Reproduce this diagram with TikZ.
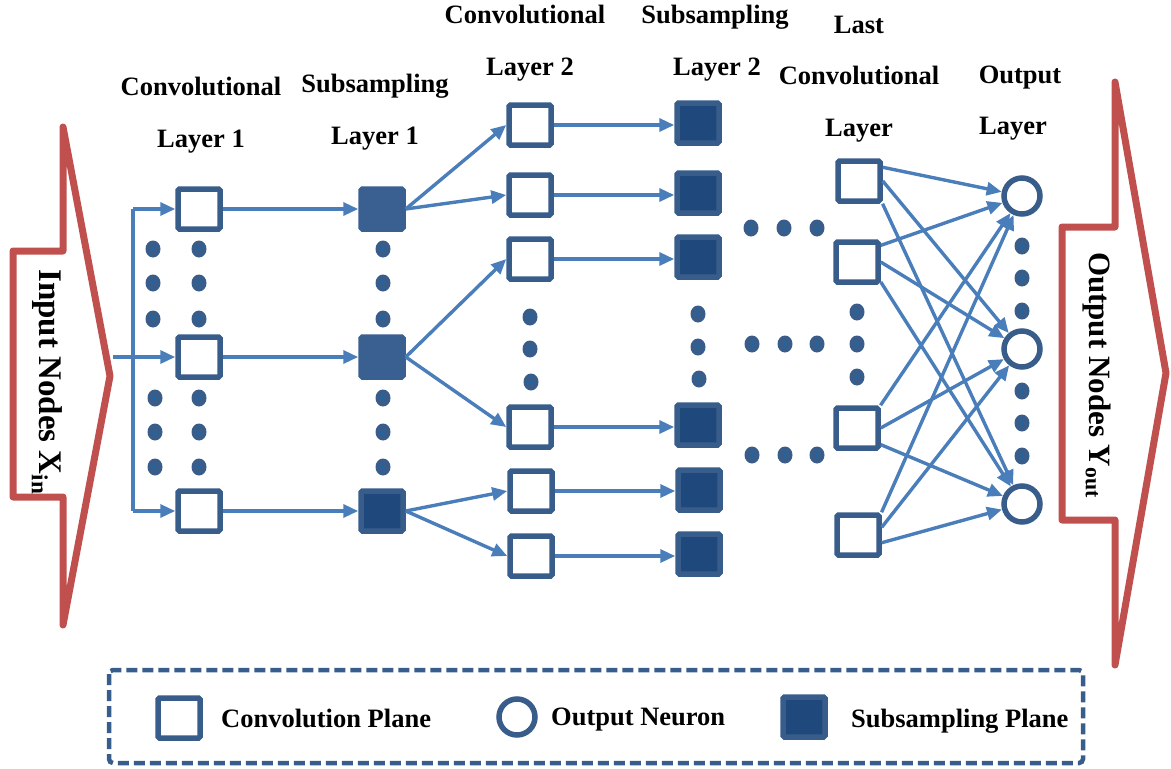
\documentclass[tikz,border=0pt]{standalone}
\usepackage{fontspec}
\setmainfont{Liberation Serif}
\usetikzlibrary{arrows.meta,calc}
\definecolor{boxc}{HTML}{385D8A}
\definecolor{subf}{HTML}{1F497D}
\definecolor{subl}{HTML}{3A6091}
\definecolor{arr}{HTML}{4A7EBB}
\definecolor{redc}{HTML}{C0504D}
\definecolor{dotin}{HTML}{0070C0}
\begin{document}
\begin{tikzpicture}[x=1pt,y=-1pt,
  conv/.style={draw=boxc,line width=5.5pt,fill=white,minimum width=42pt,minimum height=40pt,inner sep=0pt,rounded corners=1.5pt},
  subd/.style={conv,fill=subf},
  sublt/.style={conv,draw=subl,fill=subl},
  outn/.style={circle,draw=boxc,line width=5.5pt,fill=white,minimum size=36pt,inner sep=0pt},
  lbl/.style={font=\fontsize{26.5}{30}\selectfont\bfseries,inner sep=0pt,anchor=base},
  leg/.style={font=\fontsize{26.5}{30}\selectfont\bfseries,inner sep=0pt,anchor=base west},
  side/.style={font=\fontsize{31}{34}\selectfont\bfseries,rotate=-90,inner sep=0pt},
  conn/.style={draw=arr,line width=3.4pt,-{Triangle[length=15pt,width=13pt]}},
  bus/.style={draw=arr,line width=3.4pt},
  redarrow/.style={draw=redc,line width=7pt,line join=round},
  dotty/.style={fill=boxc}
]
\useasboundingbox (0,0) rectangle (1171,769);

% red side arrows
\draw[redarrow] (13,251) -- (63,251) -- (63,127) -- (110,376) -- (63,625) -- (63,497) -- (13,497) -- cycle;
\draw[redarrow] (1062,227) -- (1115,227) -- (1115,82) -- (1166,373) -- (1115,665) -- (1115,520) -- (1062,520) -- cycle;
\node[side,font=\fontsize{33}{36}\selectfont\bfseries] (intext) at (47,382) {Input Nodes X\textsubscript{in}};
\node[side] (outtext) at (1097,375) {Output Nodes Y\textsubscript{out}};

% headers
\node[lbl] (h1a) at (201,95) {Convolutional};
\node[lbl] (h1b) at (201,147) {Layer 1};
\node[lbl] (h2a) at (375,92) {Subsampling};
\node[lbl] (h2b) at (375,144) {Layer 1};
\node[lbl] (h3a) at (525,23) {Convolutional};
\node[lbl] (h3b) at (530,75) {Layer 2};
\node[lbl] (h4a) at (715,23) {Subsampling};
\node[lbl] (h4b) at (717,75) {Layer 2};
\node[lbl] (h5a) at (859,33) {Last};
\node[lbl] (h5b) at (859,84) {Convolutional};
\node[lbl] (h5c) at (859,136) {Layer};
\node[lbl] (h6a) at (1020,83) {Output};
\node[lbl] (h6b) at (1013,134) {Layer};

% layer 1
\node[conv] (l1a) at (199,209) {};
\node[conv] (l1b) at (199,357) {};
\node[conv] (l1c) at (199,511) {};
\node[sublt] (s1a) at (382,209) {};
\node[sublt] (s1b) at (382,357) {};
\node[subd] (s1c) at (382,511) {};
% layer 2
\node[conv] (c2a) at (530,125) {};
\node[conv] (c2b) at (530,195) {};
\node[conv] (c2c) at (530,259) {};
\node[conv] (c2d) at (530,427) {};
\node[conv] (c2e) at (531,491) {};
\node[conv] (c2f) at (531,556) {};
\node[subd] (s2a) at (698,123) {};
\node[subd] (s2b) at (698,193) {};
\node[subd] (s2c) at (698,257) {};
\node[subd] (s2d) at (698,425) {};
\node[subd] (s2e) at (699,490) {};
\node[subd] (s2f) at (699,554) {};
% last conv
\node[conv] (lca) at (859,181) {};
\node[conv] (lcb) at (857,262) {};
\node[conv] (lcc) at (857,428) {};
\node[conv] (lcd) at (858,535) {};
% outputs
\node[outn] (o1) at (1022,196) {};
\node[outn] (o2) at (1022,349) {};
\node[outn] (o3) at (1022,504) {};

% input bus
\coordinate (bx) at (133,0);
\coordinate (intip) at (113,357);
\draw[bus] (l1a.west -| bx) -- (l1c.west -| bx);
\draw[conn] (l1a.west -| bx) -- (l1a.west);
\draw[conn] (l1c.west -| bx) -- (l1c.west);
\draw[conn] (intip) -- (l1b.west);

% layer1 -> sub1
\draw[conn] (l1a.east) -- (s1a.west);
\draw[conn] (l1b.east) -- (s1b.west);
\draw[conn] (l1c.east) -- (s1c.west);
% sub1 -> conv2
\draw[conn] (s1a.east) -- (c2a.west);
\draw[conn] (s1a.east) -- (c2b.west);
\draw[conn] (s1b.east) -- (c2c.west);
\draw[conn] (s1b.east) -- (c2d.west);
\draw[conn] (s1c.east) -- (c2e.west);
\draw[conn] (s1c.east) -- (c2f.west);
% conv2 -> sub2
\foreach \a in {a,b,c,d,e,f}{
  \draw[conn] (c2\a.east) -- (c2\a.east -| s2\a.west);
}
% last -> outputs
\draw[conn] (lca.30) -- (o1);
\draw[conn] (lca.0) -- (o2);
\draw[conn] (lca.-44) -- (o3);
\draw[conn] (lcb.35) -- (o1);
\draw[conn] (lcb.0) -- (o2);
\draw[conn] (lcb.-40) -- (o3);
\draw[conn] (lcc.44) -- (o1);
\draw[conn] (lcc.0) -- (o2);
\draw[conn] (lcc.-35) -- (o3);
\draw[conn] (lcd.44) -- (o1);
\draw[conn] (lcd.18) -- (o2);
\draw[conn] (lcd.-18) -- (o3);

% dots
\foreach \x/\y in {153/249,153/283,153/319,155/398,155/432,155/467,
                   199/249,199/283,199/319,199/398,199/432,199/467,
                   383/249,383/283,383/319,383/398,383/432,383/467,
                   530/317,530/349,531/382,698/314,698/347,699/379,
                   751/228,784/228,817/228,752/344,785/344,817/344,752/455,785/455,817/455,
                   857/312,857/344,857/377,
                   1022/246,1022/278,1022/311,1022/391,1022/423,1022/456}{
  \fill[dotty] (\x,\y) ellipse [x radius=7.5,y radius=8.5];
  \fill[dotin] (\x,\y) circle [radius=1.3];
}

% legend
\draw[draw=boxc,line width=4.5pt,dash pattern=on 11pt off 5pt,rounded corners=4pt] (109,670) rectangle (1083,763);
\node[conv] (lg1) at (179,718) {};
\node[leg] (lt1) at (221,727) {Convolution Plane};
\node[outn] (lg2) at (517,717) {};
\node[leg] (lt2) at (551,725) {Output Neuron};
\node[subd] (lg3) at (804,717) {};
\node[leg] (lt3) at (851,727) {Subsampling Plane};
\end{tikzpicture}
\end{document}
